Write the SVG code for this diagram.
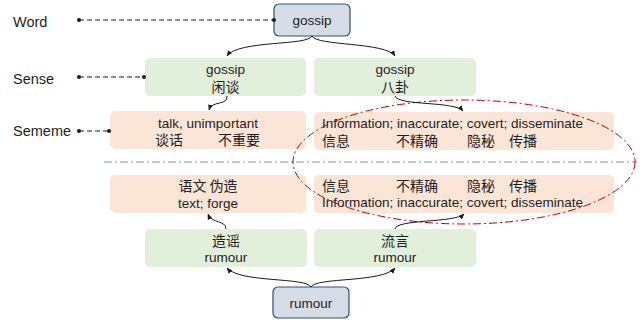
<svg xmlns="http://www.w3.org/2000/svg" width="644" height="327" viewBox="0 0 644 327">
<defs>
<style>
.t{font-family:"Liberation Sans","Noto Sans CJK SC",sans-serif;font-size:13.5px;fill:#1e1e1e}
.c{font-family:"Noto Sans CJK SC",sans-serif;font-size:14px;fill:#1e1e1e}
.lab{font-family:"Liberation Sans",sans-serif;font-size:14.5px;fill:#1e1e1e}
.word{fill:#d6dce5;stroke:#2f4f80;stroke-width:1.2}
.sense{fill:#e2efda}
.sem{fill:#fbe5d6}
.conn{fill:none;stroke:#1a1a1a;stroke-width:1}
.dash{fill:none;stroke:#1a1a1a;stroke-width:1;stroke-dasharray:5 3}
</style>
<marker id="ah" viewBox="0 0 10 10" refX="9" refY="5" markerWidth="6" markerHeight="6" orient="auto"><path d="M0,1 L10,5 L0,9 z" fill="#1a1a1a"/></marker>
<marker id="dot" viewBox="0 0 4 4" refX="2" refY="2" markerWidth="4" markerHeight="4" markerUnits="userSpaceOnUse"><circle cx="2" cy="2" r="2" fill="#1a1a1a"/></marker>
</defs>
<rect width="644" height="327" fill="#ffffff"/>

<g id="labels">
<text class="lab" x="13" y="27">Word</text>
<text class="lab" x="13" y="84">Sense</text>
<text class="lab" x="13" y="136">Sememe</text>
</g>

<g id="word-gossip">
<rect class="word" x="274" y="4" width="76" height="32" rx="5"/>
<text class="t" x="312" y="25" text-anchor="middle">gossip</text>
</g>
<g id="sense-gossip-1">
<rect class="sense" x="145" y="58" width="161" height="38" rx="5"/>
<text class="t" x="225.5" y="74" text-anchor="middle">gossip</text>
<text class="c" x="225.5" y="92" text-anchor="middle">闲谈</text>
</g>
<g id="sense-gossip-2">
<rect class="sense" x="314" y="58" width="162" height="38" rx="5"/>
<text class="t" x="395" y="74" text-anchor="middle">gossip</text>
<text class="c" x="395" y="92" text-anchor="middle">八卦</text>
</g>
<g id="sememe-1">
<rect class="sem" x="110" y="111" width="196" height="38" rx="5"/>
<text class="t" x="208" y="128" text-anchor="middle">talk, unimportant</text>
<text class="c" x="155" y="145">谈话</text>
<text class="c" x="218" y="145">不重要</text>
</g>
<g id="sememe-2">
<rect class="sem" x="314" y="112" width="300" height="38" rx="5"/>
<text class="t" x="322" y="128">Information; inaccurate; covert; disseminate</text>
<text class="c" x="322" y="146">信息</text>
<text class="c" x="396" y="146">不精确</text>
<text class="c" x="467" y="146">隐秘</text>
<text class="c" x="509" y="146">传播</text>
</g>
<g id="sememe-3">
<rect class="sem" x="110" y="175" width="196" height="38" rx="5"/>
<text class="c" x="208" y="191" text-anchor="middle">语文 伪造</text>
<text class="t" x="208" y="208" text-anchor="middle">text; forge</text>
</g>
<g id="sememe-4">
<rect class="sem" x="314" y="175" width="300" height="38" rx="5"/>
<text class="c" x="322" y="191">信息</text>
<text class="c" x="396" y="191">不精确</text>
<text class="c" x="467" y="191">隐秘</text>
<text class="c" x="509" y="191">传播</text>
<text class="t" x="322" y="207">Information; inaccurate; covert; disseminate</text>
</g>
<g id="sense-rumour-1">
<rect class="sense" x="145" y="229" width="162" height="38" rx="5"/>
<text class="c" x="226" y="246" text-anchor="middle">造谣</text>
<text class="t" x="226" y="262" text-anchor="middle">rumour</text>
</g>
<g id="sense-rumour-2">
<rect class="sense" x="314" y="229" width="162" height="38" rx="5"/>
<text class="c" x="395" y="246" text-anchor="middle">流言</text>
<text class="t" x="395" y="262" text-anchor="middle">rumour</text>
</g>
<g id="word-rumour">
<rect class="word" x="273" y="287" width="76" height="31" rx="5"/>
<text class="t" x="311" y="308" text-anchor="middle">rumour</text>
</g>

<g id="separator">
<line x1="104" y1="162" x2="637" y2="162" stroke="#6f96d6" stroke-width="1.2" stroke-dasharray="8 3 2 3"/>
<ellipse cx="464" cy="162" rx="171" ry="62" fill="none" stroke="#c00000" stroke-width="1" stroke-dasharray="8 3 2 3"/>
</g>

<g id="connectors">
<path class="dash" d="M79,20 H274" marker-start="url(#dot)" marker-end="url(#dot)"/>
<path class="dash" d="M79,77 H144" marker-start="url(#dot)" marker-end="url(#dot)"/>
<path class="dash" d="M79,131 H109" marker-start="url(#dot)" marker-end="url(#dot)"/>
<path class="conn" d="M312,36 C308,46 238,40 227,56" marker-end="url(#ah)"/>
<path class="conn" d="M312,36 C316,46 386,42 395,56" marker-end="url(#ah)"/>
<path class="conn" d="M227,96 C228,106 212,100 209,110" marker-end="url(#ah)"/>
<path class="conn" d="M395,96 C398,106 455,101 463,111" marker-end="url(#ah)"/>
<path class="conn" d="M311,287 C306,277 240,283 227,268" marker-end="url(#ah)"/>
<path class="conn" d="M311,287 C316,277 382,283 395,268" marker-end="url(#ah)"/>
<path class="conn" d="M226,229 C226,220 212,224 208,214" marker-end="url(#ah)"/>
<path class="conn" d="M395,229 C396,219 455,223 464,214" marker-end="url(#ah)"/>
</g>
</svg>
